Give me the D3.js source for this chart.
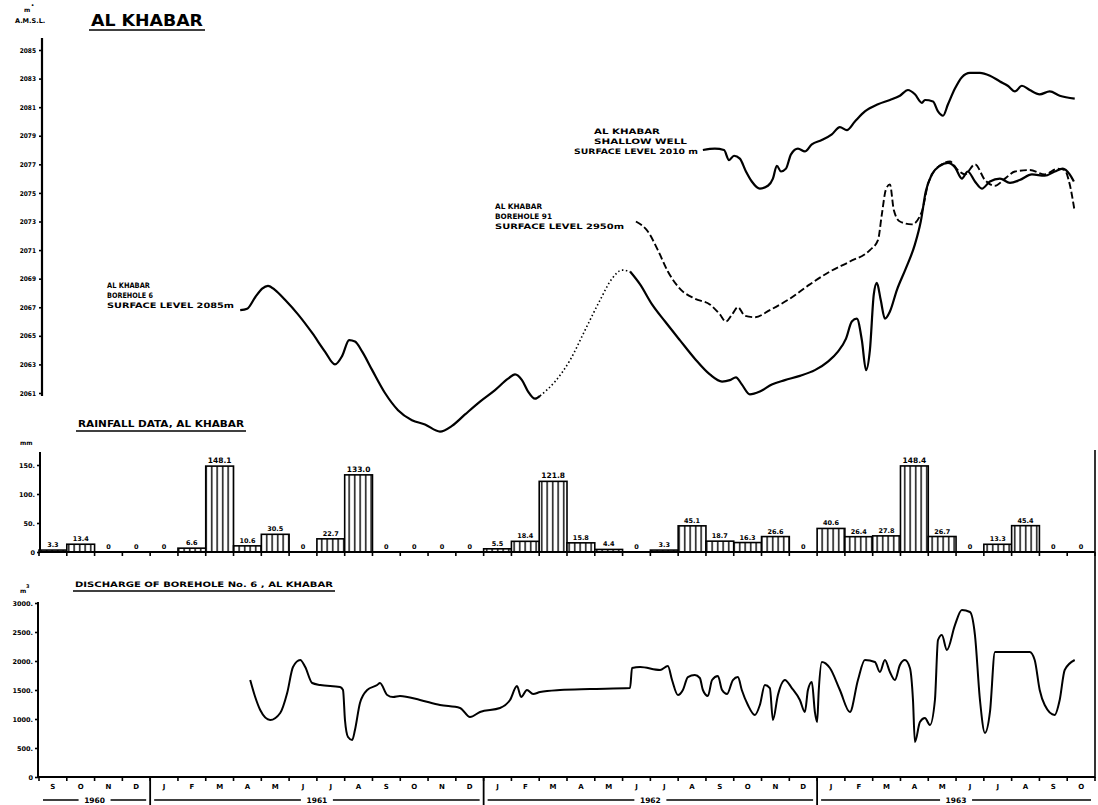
<!DOCTYPE html>
<html><head><meta charset="utf-8">
<script src="https://cdn.jsdelivr.net/npm/d3@7"></script>
<style>
body{margin:0;background:#fff}
text{font-family:"DejaVu Sans",sans-serif;font-weight:bold;fill:#000}
</style>
</head><body>
<svg id="c" width="1098" height="805"></svg>
<script>
// ---- time axis: months counted from Jan 1961 (=0) ----
const monthNames = ["J","F","M","A","M","J","J","A","S","O","N","D"];
const years = ["1960","1961","1962","1963"];
const yearStart = [-4, 0, 12, 24];
const yearEnd = [0, 12, 24, 34];

// ---- groundwater levels (m AMSL) ----
const levelTicks = [2061,2063,2065,2067,2069,2071,2073,2075,2077,2079,2081,2083,2085];

const bh6Month1 = [3.24,3.49,3.78,4.03,4.24,4.50,4.86,5.32,5.83,6.29,6.65,6.91,7.16,7.37,7.63,7.99,8.45,8.92,9.42,9.89,10.43,10.86,11.33,11.87,12.41,12.88,13.13,13.38,13.60,13.85,14.03];
const bh6Level1 = [2066.8,2066.9,2067.7,2068.3,2068.5,2068.2,2067.5,2066.5,2065.2,2063.9,2063.0,2063.6,2064.7,2064.6,2063.9,2062.6,2061.0,2059.8,2059.1,2058.8,2058.3,2058.7,2059.5,2060.4,2061.2,2062.0,2062.3,2061.9,2061.1,2060.6,2060.8];

const bh6MonthDot = [14.03,14.57,15.11,15.65,16.19,16.62,16.98,17.27];
const bh6LevelDot = [2060.8,2061.8,2063.3,2065.4,2067.5,2069.0,2069.6,2069.5];

const bh6Month2 = [17.27,17.63,18.06,18.53,19.06,19.60,20.14,20.58,20.86,21.08,21.29,21.58,21.94,22.37,22.84,23.38,23.92,24.39,24.75,25.04,25.25,25.43,25.61,25.76,25.90,26.04,26.15,26.29,26.44,26.62,26.87,27.19,27.52,27.73,27.91,28.13,28.42,28.71,28.96,29.21,29.42,29.68,29.93,30.22,30.58,30.94,31.29,31.73,32.19,32.55,32.84,33.09,33.24];
const bh6Level2 = [2069.5,2068.6,2067.2,2066.0,2064.7,2063.4,2062.3,2061.8,2061.9,2062.1,2061.6,2060.9,2061.1,2061.6,2061.9,2062.2,2062.6,2063.2,2063.9,2064.8,2066.0,2066.2,2064.7,2062.6,2064.0,2067.9,2068.7,2067.5,2066.2,2066.7,2068.2,2069.7,2071.4,2073.0,2075.1,2076.3,2076.9,2077.1,2076.8,2076.0,2076.5,2075.8,2075.3,2075.8,2076.0,2075.7,2075.9,2076.3,2076.2,2076.5,2076.7,2076.3,2075.8];

const bh91Month = [17.48,17.91,18.27,18.63,19.06,19.60,20.14,20.50,20.72,20.94,21.15,21.40,21.76,22.30,23.02,23.74,24.46,25.18,25.90,26.19,26.33,26.47,26.62,26.76,26.98,27.41,27.77,27.99,28.24,28.49,28.78,29.06,29.32,29.68,30.04,30.40,30.76,31.12,31.65,32.19,32.66,32.91,33.09,33.27];
const bh91Level = [2073.0,2072.3,2071.0,2069.5,2068.3,2067.6,2067.2,2066.5,2066.0,2066.5,2067.0,2066.4,2066.3,2066.8,2067.6,2068.6,2069.5,2070.2,2071.0,2071.7,2073.5,2075.2,2075.6,2073.8,2073.0,2072.8,2073.7,2075.6,2076.6,2077.0,2077.2,2076.6,2076.3,2077.0,2075.9,2075.5,2076.0,2076.5,2076.6,2076.3,2076.7,2076.6,2075.6,2073.7];

const wellMonth = [19.89,20.32,20.65,20.83,21.01,21.22,21.44,21.65,21.94,22.23,22.41,22.55,22.70,22.88,23.06,23.31,23.56,23.81,24.17,24.53,24.82,25.07,25.36,25.72,26.19,26.62,26.98,27.27,27.52,27.77,27.88,28.17,28.35,28.53,28.71,28.96,29.21,29.50,29.86,30.22,30.58,30.86,31.12,31.37,31.65,32.01,32.37,32.73,33.27];
const wellLevel = [2078.0,2078.1,2078.0,2077.3,2077.6,2077.4,2076.5,2075.8,2075.3,2075.5,2076.0,2076.9,2076.5,2076.7,2077.7,2078.1,2077.9,2078.4,2078.7,2079.1,2079.6,2079.4,2080.0,2080.7,2081.2,2081.5,2081.8,2082.2,2081.9,2081.3,2081.5,2081.4,2080.7,2080.4,2081.2,2082.3,2083.1,2083.4,2083.4,2083.2,2082.8,2082.5,2082.1,2082.5,2082.2,2081.9,2082.1,2081.8,2081.6];

// ---- rainfall (mm), one value per month from Sep 1960 ----
const rainMonths = [-4,-3,-2,-1,0,1,2,3,4,5,6,7,8,9,10,11,12,13,14,15,16,17,18,19,20,21,22,23,24,25,26,27,28,29,30,31,32,33];
const rainValues = [3.3,13.4,0,0,0,6.6,148.1,10.6,30.5,0,22.7,133.0,0,0,0,0,5.5,18.4,121.8,15.8,4.4,0,3.3,45.1,18.7,16.3,26.6,0,40.6,26.4,27.8,148.4,26.7,0,13.3,45.4,0,0];
const rainTicks = [0,50,100,150];

// ---- discharge of borehole 6 (m3) ----
const disMonth = [3.60,3.78,3.96,4.32,4.68,4.93,5.14,5.40,5.58,5.83,6.12,6.83,6.94,7.01,7.12,7.27,7.37,7.55,7.81,8.17,8.27,8.53,8.74,8.99,9.71,10.43,11.15,11.51,11.87,12.59,12.95,13.20,13.35,13.56,13.78,14.03,14.75,15.83,17.27,17.34,17.63,18.35,18.63,18.78,18.99,19.17,19.35,19.60,19.78,19.89,20.07,20.22,20.43,20.58,20.76,20.97,21.15,21.29,21.51,21.76,21.94,22.12,22.30,22.41,22.59,22.84,23.09,23.38,23.56,23.67,23.81,23.92,24.00,24.06,24.17,24.46,24.82,25.18,25.47,25.72,26.08,26.26,26.44,26.62,26.80,26.98,27.16,27.34,27.45,27.52,27.70,27.88,28.06,28.24,28.35,28.49,28.67,28.96,29.21,29.50,29.68,29.86,30.04,30.22,30.40,30.76,31.29,31.65,31.83,32.01,32.19,32.55,32.73,32.91,33.27];
const disValue = [1672,1379,1155,983,1103,1448,1896,2017,1896,1621,1586,1552,1500,983,690,638,810,1276,1500,1586,1621,1414,1379,1396,1328,1241,1190,1034,1121,1190,1328,1569,1379,1500,1431,1465,1500,1517,1534,1879,1896,1845,1914,1672,1414,1500,1724,1758,1707,1500,1396,1672,1741,1500,1431,1672,1724,1500,1241,1069,1241,1586,1534,983,1414,1672,1534,1328,1121,1500,1638,1121,948,1500,1983,1879,1500,1121,1672,2017,1983,1810,2017,1810,1672,1931,2017,1879,1328,603,948,1017,896,1328,2362,2448,2190,2620,2879,2845,2448,1328,759,1121,2155,2155,2155,2155,2017,1500,1241,1069,1328,1845,2017];
const disTicks = [0,500,1000,1500,2000,2500,3000];

const svg = d3.select("#c");
const x = d3.scaleLinear().domain([-4,34]).range([39,1095]);
const yL = d3.scaleLinear().domain([2061,2085]).range([393,50]);
const yR = d3.scaleLinear().domain([0,150]).range([552,465]);
const yD = d3.scaleLinear().domain([0,3000]).range([777,603]);

const zip = (a,b)=>a.map((v,i)=>[v,b[i]]);
const lineL = d3.line().x(d=>x(d[0])).y(d=>yL(d[1])).curve(d3.curveMonotoneX);
const lineD = d3.line().x(d=>x(d[0])).y(d=>yD(d[1])).curve(d3.curveMonotoneX);

// hatch pattern
const defs = svg.append("defs");
const pat = defs.append("pattern").attr("id","hatch").attr("patternUnits","userSpaceOnUse")
  .attr("width",5.5).attr("height",10);
pat.append("rect").attr("width",5.5).attr("height",10).attr("fill","#fff");
pat.append("line").attr("x1",2.7).attr("x2",2.7).attr("y1",0).attr("y2",10).attr("stroke","#000").attr("stroke-width",1.4);

function title(txt, x0, y0, size, x1){
  const t = svg.append("text").attr("x",x0).attr("y",y0).attr("font-size",size).text(txt);
  if (x1) t.attr("textLength", x1-x0).attr("lengthAdjust","spacingAndGlyphs");
  svg.append("line").attr("x1",x0-2).attr("x2",(x1||x0+100)+2).attr("y1",y0+4).attr("y2",y0+4)
    .attr("stroke","#000").attr("stroke-width",1.6);
}

// ===== TOP CHART =====
title("AL KHABAR", 91, 26, 15, 203);
svg.append("text").attr("x",24).attr("y",12).attr("font-size",6).text("m");
svg.append("text").attr("x",31).attr("y",7).attr("font-size",5).text("•");
svg.append("text").attr("x",15).attr("y",23).attr("font-size",6.5).text("A.M.S.L.");

const axL = svg.append("g").attr("transform","translate(42,0)")
  .call(d3.axisLeft(yL).tickValues(levelTicks).tickSize(3).tickPadding(3).tickFormat(d=>d+""));
axL.select(".domain").remove();
axL.selectAll("text").attr("font-size",6.5).style("font-family","DejaVu Sans Condensed, DejaVu Sans, sans-serif");
axL.selectAll("line").attr("stroke-width",1.6);
svg.append("line").attr("x1",42).attr("x2",42).attr("y1",38).attr("y2",396).attr("stroke","#000").attr("stroke-width",2.2);

const sw = 2.2;
svg.append("path").datum(zip(bh6Month1,bh6Level1)).attr("d",lineL).attr("fill","none").attr("stroke","#000").attr("stroke-width",sw);
svg.append("path").datum(zip(bh6MonthDot,bh6LevelDot)).attr("d",lineL).attr("fill","none").attr("stroke","#000").attr("stroke-width",1.6).attr("stroke-dasharray","1.5,2.5");
svg.append("path").datum(zip(bh6Month2,bh6Level2)).attr("d",lineL).attr("fill","none").attr("stroke","#000").attr("stroke-width",sw);
svg.append("path").datum(zip(bh91Month,bh91Level)).attr("d",lineL).attr("fill","none").attr("stroke","#000").attr("stroke-width",1.9).attr("stroke-dasharray","7,3");
svg.append("path").datum(zip(wellMonth,wellLevel)).attr("d",lineL).attr("fill","none").attr("stroke","#000").attr("stroke-width",sw);

function note(lines, xs, y0, ends){
  lines.forEach((s,i)=>{
    svg.append("text").attr("x",xs[i]).attr("y",y0+i*10).attr("font-size",7.5)
      .attr("textLength",ends[i]-xs[i]).attr("lengthAdjust","spacingAndGlyphs").text(s);
  });
}
note(["AL KHABAR","BOREHOLE  6","SURFACE LEVEL 2085m"],[107,107,107],288,[150,153,234]);
note(["AL KHABAR","BOREHOLE  91","SURFACE LEVEL  2950m"],[495,495,495],209,[542,552,624]);
note(["AL KHABAR","SHALLOW WELL","SURFACE LEVEL 2010 m"],[594,594,574],134,[660,687,698]);

// ===== RAINFALL =====
title("RAINFALL DATA, AL KHABAR", 78, 427, 8, 244);
svg.append("text").attr("x",20).attr("y",445).attr("font-size",6).text("mm");
const axR = svg.append("g").attr("transform","translate(40,0)")
  .call(d3.axisLeft(yR).tickValues(rainTicks).tickSize(3).tickPadding(2).tickFormat(d=>d===0?"0":d+"."));
axR.select(".domain").remove();
axR.selectAll("text").attr("font-size",6.5);
axR.selectAll("line").attr("stroke-width",1.6);
svg.append("line").attr("x1",40).attr("x2",40).attr("y1",452).attr("y2",553).attr("stroke","#000").attr("stroke-width",2);

const rain = rainMonths.map((m,i)=>({m, v:rainValues[i]}));
svg.selectAll(".bar").data(rain.filter(d=>d.v>0)).join("rect")
  .attr("x",d=>x(d.m)).attr("width",d=>x(d.m+1)-x(d.m))
  .attr("y",d=>yR(d.v)).attr("height",d=>yR(0)-yR(d.v))
  .attr("fill","url(#hatch)").attr("stroke","#000").attr("stroke-width",1.6);
svg.selectAll(".rl").data(rain).join("text")
  .attr("x",d=>(x(d.m)+x(d.m+1))/2).attr("y",d=>yR(d.v)-3)
  .attr("text-anchor","middle").attr("font-size",d=>d.v>=100?7.5:6.5)
  .text(d=>d.v===0?"0":d.v.toFixed(1));
svg.append("line").attr("x1",40).attr("x2",1095).attr("y1",yR(0)).attr("y2",yR(0)).attr("stroke","#000").attr("stroke-width",2);
svg.selectAll(".rt").data(d3.range(-4,35)).join("line")
  .attr("x1",d=>x(d)).attr("x2",d=>x(d)).attr("y1",yR(0)).attr("y2",yR(0)+4)
  .attr("stroke","#000").attr("stroke-width",1.6);

// ===== DISCHARGE =====
title("DISCHARGE OF BOREHOLE No. 6 , AL KHABAR", 75, 587, 7.5, 333);
svg.append("text").attr("x",20).attr("y",593).attr("font-size",6).text("m");
svg.append("text").attr("x",26).attr("y",588).attr("font-size",5).text("3");
const axD = svg.append("g").attr("transform","translate(38,0)")
  .call(d3.axisLeft(yD).tickValues(disTicks).tickSize(3).tickPadding(2).tickFormat(d=>d===0?"0":d+"."));
axD.select(".domain").remove();
axD.selectAll("text").attr("font-size",6.5);
axD.selectAll("line").attr("stroke-width",1.6);
svg.append("line").attr("x1",38).attr("x2",38).attr("y1",602).attr("y2",778).attr("stroke","#000").attr("stroke-width",2);
svg.append("line").attr("x1",38).attr("x2",1095).attr("y1",777).attr("y2",777).attr("stroke","#000").attr("stroke-width",2);
svg.append("line").attr("x1",1095).attr("x2",1095).attr("y1",450).attr("y2",778).attr("stroke","#000").attr("stroke-width",1.6);

svg.append("path").datum(zip(disMonth,disValue)).attr("d",lineD).attr("fill","none").attr("stroke","#000").attr("stroke-width",2);

// month ticks & labels
svg.selectAll(".mt").data(d3.range(-4,35)).join("line")
  .attr("x1",d=>x(d)).attr("x2",d=>x(d)).attr("y1",777).attr("y2",781)
  .attr("stroke","#000").attr("stroke-width",1.6);
svg.selectAll(".ml").data(d3.range(-4,34)).join("text")
  .attr("x",d=>x(d+0.5)).attr("y",789).attr("text-anchor","middle").attr("font-size",7)
  .text(d=>monthNames[(d+12)%12]);

// year separators & labels
[0,12,24].forEach(m=>{
  svg.append("line").attr("x1",x(m)).attr("x2",x(m)).attr("y1",777).attr("y2",805).attr("stroke","#000").attr("stroke-width",1.8);
});
years.forEach((yr,i)=>{
  const a = x(yearStart[i]), b = x(yearEnd[i]), c = (a+b)/2;
  svg.append("text").attr("x",c).attr("y",803).attr("text-anchor","middle").attr("font-size",7.5).text(yr);
  svg.append("line").attr("x1",a+4).attr("x2",c-16).attr("y1",800).attr("y2",800).attr("stroke","#000").attr("stroke-width",1.3);
  svg.append("line").attr("x1",c+16).attr("x2",b-4).attr("y1",800).attr("y2",800).attr("stroke","#000").attr("stroke-width",1.3);
});
</script>
</body></html>
